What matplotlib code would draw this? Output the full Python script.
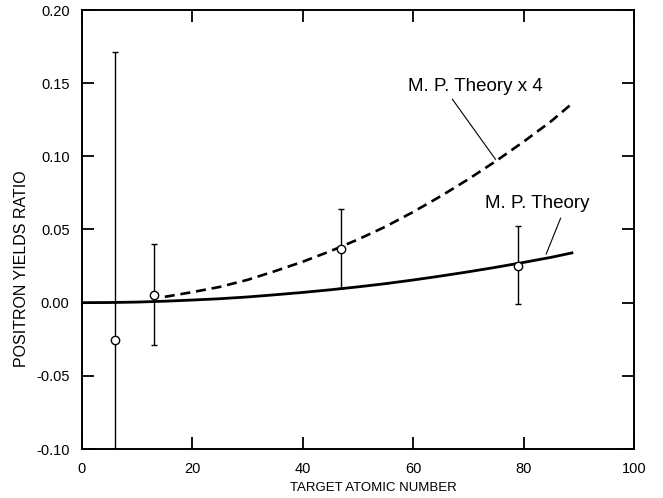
import numpy as np
import matplotlib
matplotlib.use("Agg")
import matplotlib.pyplot as plt

# Measured data (Z, ratio, lower error, upper error)
data_z = [6, 13, 47, 79]
data_ratio = [-0.0255, 0.0053, 0.0365, 0.0253]
data_low = [-0.20, -0.029, 0.0098, -0.0010]
data_high = [0.171, 0.040, 0.064, 0.0526]

# M. P. theory curve
theory_z = [0, 5, 10, 15, 20, 25, 30, 35, 40, 45, 50, 55, 60, 65, 70, 75, 80, 85, 89]
theory_val = [0.0, 0.0001, 0.0004, 0.0010, 0.0018, 0.0027, 0.0039, 0.0054, 0.0070,
              0.0088, 0.0108, 0.0130, 0.0155, 0.0182, 0.0211, 0.0242, 0.0275, 0.0310, 0.0342]
x4_start_index = 3  # the "x 4" curve starts at Z = 15
scale_factor = 4

x_ticks = [0, 20, 40, 60, 80, 100]
y_ticks = [-0.10, -0.05, 0.00, 0.05, 0.10, 0.15, 0.20]

plt.rcParams['font.family'] = ['Liberation Sans', 'DejaVu Sans']

W, H = 663, 498
fig = plt.figure(figsize=(W / 100, H / 100), dpi=100)
left, right, top, bottom = 82, 634, 10, 449
ax = fig.add_axes([left / W, 1 - bottom / H, (right - left) / W, (bottom - top) / H])

tz = np.array(theory_z)
tv = np.array(theory_val)
ax.plot(tz, tv, color='black', lw=2.0, solid_capstyle='butt', zorder=3)
ax.plot(tz[x4_start_index:], scale_factor * tv[x4_start_index:], color='black', lw=1.9,
        dashes=(3.8, 2.2), zorder=3)

dz = np.array(data_z)
dr = np.array(data_ratio)
yerr = np.vstack([dr - np.array(data_low), np.array(data_high) - dr])
ax.errorbar(dz, dr, yerr=yerr, fmt='o', mfc='white', mec='black', mew=1.0, ms=6,
            ecolor='black', elinewidth=1.0, capsize=2.2, capthick=1.0, zorder=4)

ax.set_xlim(0, 100)
ax.set_ylim(-0.10, 0.20)
ax.set_xticks(x_ticks)
ax.set_yticks(y_ticks)
ax.set_xticklabels([str(t) for t in x_ticks])
ax.set_yticklabels([f"{t:.2f}" for t in y_ticks])
ax.tick_params(direction='in', length=8.5, width=1.3, top=True, right=True,
               labelsize=10.5)
ax.tick_params(axis='x', pad=9)
ax.tick_params(axis='y', pad=9)
for s in ax.spines.values():
    s.set_linewidth(1.4)

# annotations
ax.text(59.0, 0.148, "M. P. Theory x 4", fontsize=13.5, ha='left', va='center')
ax.plot([67.1, 74.9], [0.139, 0.098], color='black', lw=0.8)
ax.text(73.0, 0.068, "M. P. Theory", fontsize=13.5, ha='left', va='center')
ax.plot([86.7, 84.1], [0.0577, 0.0333], color='black', lw=0.8)

fig.text(373 / W, 1 - 488 / H, "TARGET ATOMIC NUMBER", ha='center', va='center',
         fontsize=9.5)
fig.text(22 / W, 1 - 269 / H, "POSITRON YIELDS RATIO", ha='center', va='center',
         rotation=90, fontsize=11.5)

fig.savefig("out.png", dpi=100)
